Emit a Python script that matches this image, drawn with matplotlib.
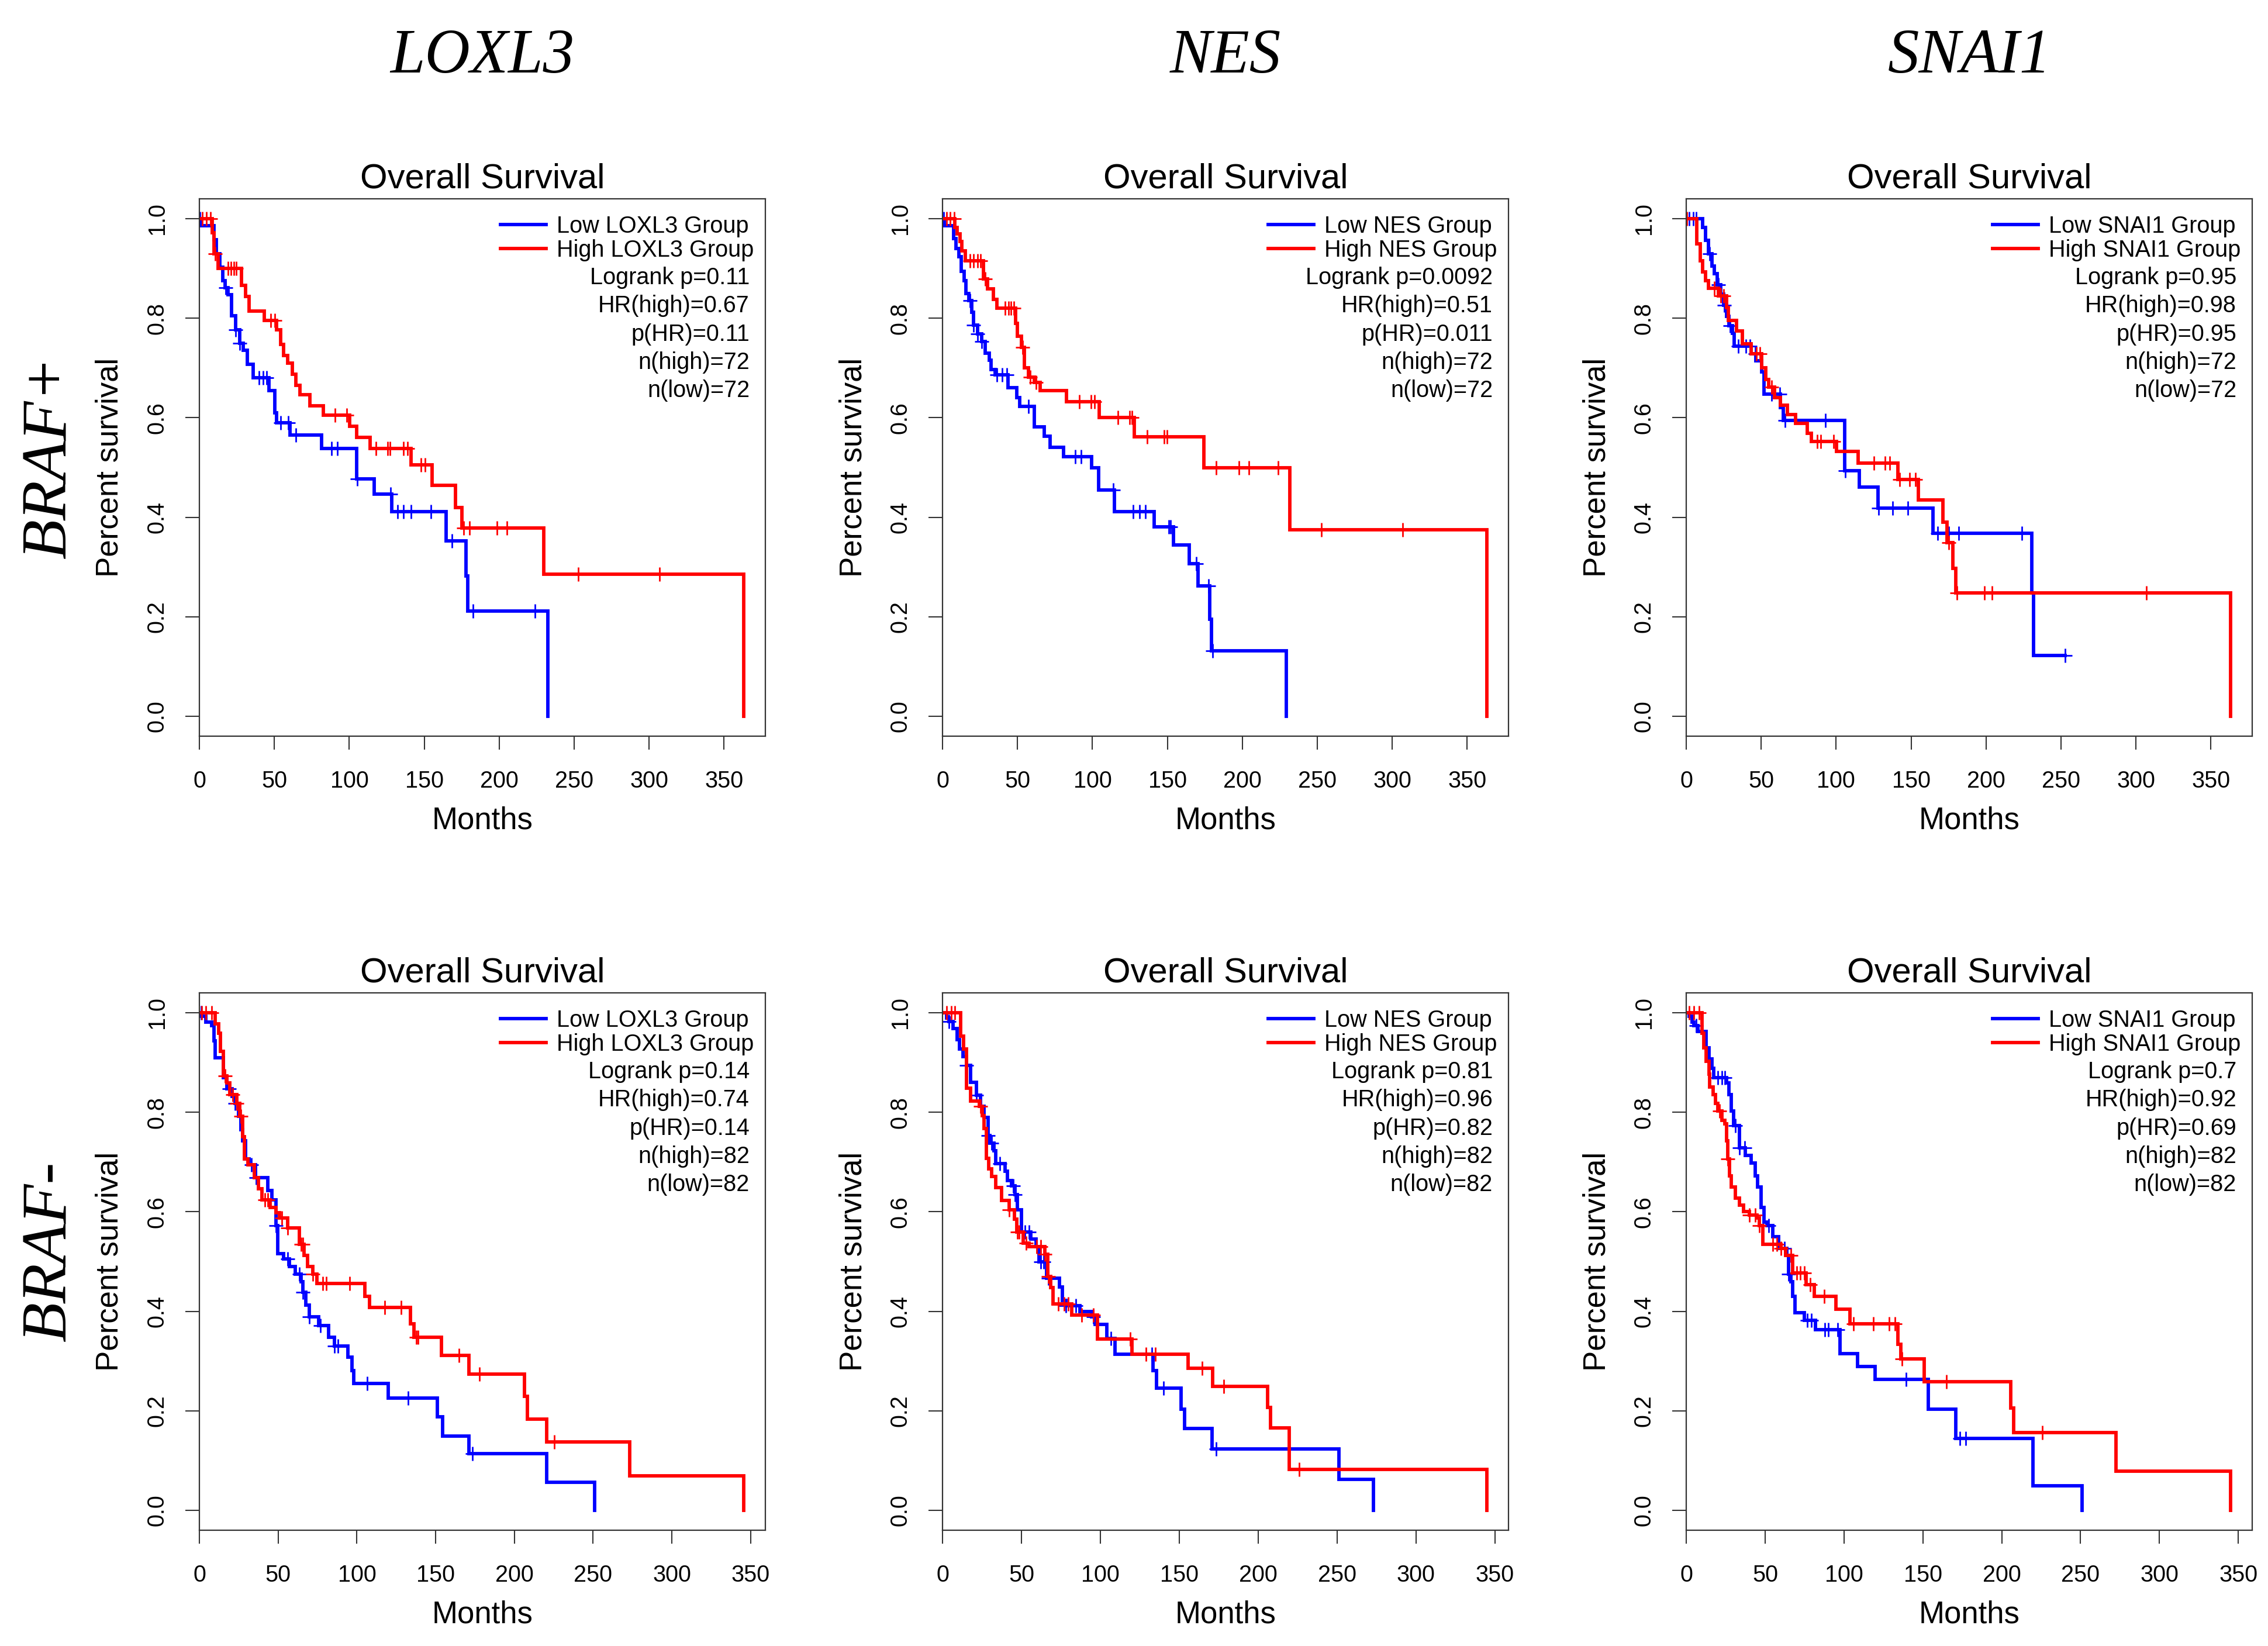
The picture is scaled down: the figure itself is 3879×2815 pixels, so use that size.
import numpy as np
import matplotlib
matplotlib.use("Agg")
import matplotlib.pyplot as plt
from matplotlib.lines import Line2D

plt.rcParams["font.family"] = ["Liberation Sans", "DejaVu Sans"]

# === Kaplan-Meier steps (months, fraction surviving) ===
genes = ["LOXL3", "NES", "SNAI1"]
groups = ["BRAF+", "BRAF-"]

# LOXL3 / BRAF+
A_low_t = [0, 1.3, 9.9, 11.5, 13.8, 15.6, 17.0, 19.0, 21.6, 24.2, 26.8, 29.4, 32.0, 35.9, 46.3, 50.2, 51.5, 60.6, 81.4, 104.9, 116.6, 128.3, 164.7, 177.7, 179.0, 232.4]
A_low_s = [1.0, 0.986, 0.958, 0.93, 0.902, 0.875, 0.861, 0.847, 0.805, 0.777, 0.75, 0.736, 0.708, 0.68, 0.654, 0.61, 0.59, 0.565, 0.538, 0.477, 0.447, 0.411, 0.352, 0.282, 0.211, 0.0]
A_low_c = [0.5, 17.7, 24.2, 26.8, 39.8, 42.4, 45.0, 54.1, 59.3, 64.5, 88.0, 91.9, 105.4, 127.5, 132.2, 136.1, 141.3, 154.3, 168.6, 182.4, 223.8]
A_high_t = [0, 8.6, 9.9, 12.5, 28.1, 30.7, 33.3, 43.2, 51.5, 54.1, 56.2, 58.8, 61.9, 64.5, 67.1, 73.6, 82.7, 100.4, 104.9, 114.0, 141.3, 155.1, 170.7, 175.1, 229.8, 363.0]
A_high_s = [1.0, 0.972, 0.93, 0.9, 0.866, 0.844, 0.814, 0.795, 0.777, 0.747, 0.725, 0.71, 0.687, 0.665, 0.646, 0.624, 0.605, 0.583, 0.561, 0.538, 0.505, 0.464, 0.419, 0.378, 0.285, 0.0]
A_high_c = [2.0, 4.7, 7.3, 10.5, 19.0, 21.0, 23.0, 24.5, 47.6, 50.2, 90.6, 98.4, 117.9, 125.7, 127.0, 136.1, 138.7, 147.8, 150.4, 176.4, 180.3, 198.5, 205.0, 252.7, 307.1]

# NES / BRAF+
B_low_t = [0, 1.3, 7.3, 9.1, 10.9, 12.5, 14.3, 15.6, 17.7, 19.5, 20.8, 23.4, 26.0, 28.6, 31.2, 32.5, 35.1, 43.7, 49.4, 51.5, 61.2, 67.7, 71.6, 80.7, 99.4, 104.1, 114.5, 141.0, 154.0, 164.5, 170.4, 178.2, 179.5, 229.5]
B_low_s = [1.0, 0.986, 0.96, 0.94, 0.924, 0.894, 0.876, 0.85, 0.835, 0.812, 0.786, 0.768, 0.753, 0.73, 0.716, 0.697, 0.686, 0.66, 0.641, 0.623, 0.582, 0.563, 0.541, 0.522, 0.5, 0.455, 0.411, 0.381, 0.344, 0.307, 0.262, 0.195, 0.132, 0.0]
B_low_c = [0.8, 18.2, 20.8, 23.4, 26.0, 36.4, 39.6, 42.9, 57.2, 88.5, 92.4, 114.0, 127.0, 131.4, 135.3, 150.9, 152.2, 169.1, 177.5, 180.0]
B_high_t = [0, 8.3, 9.9, 11.7, 13.0, 15.1, 27.3, 29.9, 33.8, 36.4, 48.9, 50.0, 52.6, 54.6, 57.2, 61.2, 65.1, 82.7, 104.6, 128.0, 174.3, 231.6, 363.0]
B_high_s = [1.0, 0.983, 0.969, 0.954, 0.935, 0.915, 0.879, 0.859, 0.838, 0.82, 0.79, 0.764, 0.742, 0.7, 0.682, 0.671, 0.655, 0.632, 0.6, 0.562, 0.5, 0.375, 0.0]
B_high_c = [2.6, 5.2, 7.8, 18.2, 20.8, 23.4, 25.5, 28.6, 41.6, 44.2, 45.5, 47.4, 53.3, 58.5, 62.5, 91.1, 98.9, 101.5, 117.1, 124.9, 126.2, 136.6, 147.8, 149.6, 182.7, 197.8, 204.3, 223.8, 252.9, 307.1]

# SNAI1 / BRAF+
C_low_t = [0, 11.0, 12.9, 15.0, 17.1, 18.9, 20.8, 22.9, 25.0, 26.8, 28.6, 30.7, 32.1, 43.4, 46.5, 50.4, 51.8, 62.8, 64.9, 105.6, 115.3, 128.0, 164.7, 230.4, 231.7, 252.8]
C_low_s = [1.0, 0.983, 0.957, 0.93, 0.905, 0.89, 0.867, 0.849, 0.826, 0.804, 0.785, 0.77, 0.744, 0.729, 0.714, 0.692, 0.647, 0.621, 0.595, 0.494, 0.461, 0.418, 0.368, 0.248, 0.122, 0.122]
C_low_c = [1.8, 4.5, 6.6, 15.5, 21.5, 25.5, 29.4, 34.7, 39.9, 42.6, 46.0, 57.0, 62.3, 66.0, 93.0, 106.0, 128.5, 137.9, 147.7, 167.9, 175.3, 181.8, 223.9, 252.8]
C_high_t = [0, 7.1, 9.2, 11.0, 12.9, 15.0, 21.5, 26.8, 28.1, 33.4, 37.3, 43.4, 50.4, 53.1, 54.9, 59.1, 62.8, 67.5, 72.8, 80.7, 83.3, 100.4, 114.8, 141.1, 154.8, 171.3, 173.9, 177.9, 180.0, 363.1]
C_high_s = [1.0, 0.949, 0.916, 0.893, 0.875, 0.86, 0.845, 0.822, 0.796, 0.774, 0.748, 0.729, 0.7, 0.677, 0.662, 0.64, 0.625, 0.606, 0.589, 0.569, 0.552, 0.532, 0.509, 0.476, 0.435, 0.39, 0.349, 0.297, 0.248, 0.0]
C_high_c = [0.5, 18.9, 22.9, 25.0, 47.0, 49.1, 57.0, 87.2, 89.9, 98.5, 125.3, 132.7, 135.8, 142.4, 149.0, 152.9, 175.3, 180.5, 198.9, 204.2, 307.1]

# LOXL3 / BRAF-
D_low_t = [0, 1.5, 4.0, 7.7, 9.4, 10.1, 15.1, 17.6, 20.8, 22.5, 25.0, 26.2, 27.5, 29.2, 31.7, 35.6, 43.6, 46.0, 48.5, 49.8, 53.5, 57.2, 60.9, 64.6, 65.8, 67.6, 69.6, 75.7, 81.9, 85.6, 94.3, 96.8, 98.0, 119.8, 151.2, 154.5, 171.0, 220.5, 251.0]
D_low_s = [1.0, 0.993, 0.981, 0.974, 0.944, 0.91, 0.87, 0.847, 0.832, 0.818, 0.792, 0.765, 0.743, 0.706, 0.695, 0.669, 0.643, 0.624, 0.572, 0.516, 0.505, 0.49, 0.475, 0.46, 0.438, 0.412, 0.389, 0.371, 0.348, 0.33, 0.308, 0.281, 0.255, 0.226, 0.188, 0.149, 0.114, 0.056, 0.0]
D_low_c = [1.0, 18.8, 22.5, 33.2, 36.1, 48.5, 55.9, 63.4, 65.8, 69.6, 77.0, 85.6, 88.1, 106.7, 132.7, 173.5]
D_high_t = [0, 10.1, 12.1, 13.4, 15.1, 17.6, 19.3, 23.8, 25.7, 27.5, 28.7, 30.7, 34.9, 37.4, 39.9, 44.8, 48.5, 51.0, 55.9, 63.4, 66.3, 68.8, 72.0, 74.5, 104.9, 107.9, 133.9, 136.4, 153.7, 171.0, 206.4, 208.2, 220.5, 273.3, 345.5]
D_high_s = [1.0, 0.978, 0.959, 0.922, 0.873, 0.859, 0.836, 0.818, 0.792, 0.751, 0.706, 0.695, 0.669, 0.646, 0.624, 0.609, 0.598, 0.587, 0.568, 0.535, 0.512, 0.49, 0.475, 0.456, 0.43, 0.408, 0.375, 0.348, 0.311, 0.274, 0.229, 0.183, 0.138, 0.069, 0.0]
D_high_c = [1.5, 4.0, 7.7, 16.3, 21.3, 23.8, 26.2, 41.6, 43.6, 52.2, 55.9, 64.6, 65.8, 72.0, 78.2, 80.7, 95.5, 117.8, 128.2, 137.6, 138.9, 164.9, 177.7, 225.5]

# NES / BRAF-
E_low_t = [0, 2.5, 4.2, 6.7, 9.1, 10.9, 12.8, 15.3, 17.8, 21.5, 23.9, 26.4, 28.9, 30.1, 32.6, 33.8, 39.5, 41.2, 43.7, 46.1, 47.4, 49.9, 56.0, 59.2, 61.0, 65.9, 74.0, 75.8, 78.2, 86.9, 94.3, 96.7, 104.1, 109.1, 133.3, 135.7, 151.0, 153.5, 170.8, 251.0, 273.2]
E_low_s = [1.0, 0.99, 0.983, 0.968, 0.946, 0.927, 0.912, 0.894, 0.86, 0.834, 0.812, 0.79, 0.753, 0.738, 0.723, 0.697, 0.682, 0.663, 0.652, 0.634, 0.604, 0.559, 0.545, 0.53, 0.5, 0.467, 0.449, 0.422, 0.411, 0.4, 0.389, 0.374, 0.345, 0.314, 0.281, 0.246, 0.203, 0.164, 0.123, 0.062, 0.0]
E_low_c = [4.2, 15.3, 21.5, 28.9, 31.3, 36.3, 44.9, 46.1, 52.3, 54.8, 62.2, 64.2, 67.1, 78.2, 84.4, 95.5, 106.6, 132.5, 139.9, 173.2]
E_high_t = [0, 11.6, 13.3, 15.3, 17.8, 23.2, 25.2, 26.4, 27.6, 29.4, 31.3, 33.8, 37.5, 42.4, 45.4, 46.9, 51.1, 54.8, 64.7, 66.6, 68.4, 70.1, 81.9, 98.0, 120.2, 155.5, 171.3, 205.8, 207.8, 219.6, 344.8]
E_high_s = [1.0, 0.953, 0.927, 0.849, 0.823, 0.812, 0.793, 0.767, 0.708, 0.686, 0.671, 0.649, 0.623, 0.604, 0.585, 0.559, 0.537, 0.53, 0.515, 0.47, 0.448, 0.415, 0.392, 0.344, 0.314, 0.285, 0.249, 0.207, 0.166, 0.082, 0.0]
E_high_c = [2.5, 5.4, 7.9, 23.9, 42.4, 47.4, 48.6, 52.8, 59.7, 62.2, 64.7, 67.1, 73.3, 77.0, 79.5, 88.1, 95.5, 119.0, 128.8, 135.0, 164.6, 178.2, 225.8]

# SNAI1 / BRAF-
F_low_t = [0, 2.0, 3.7, 5.0, 7.5, 12.5, 14.5, 16.2, 17.5, 25.5, 27.0, 28.7, 30.0, 33.7, 37.4, 41.2, 43.7, 45.4, 47.4, 49.4, 51.2, 54.9, 58.7, 63.7, 64.9, 66.2, 67.4, 69.1, 74.9, 81.9, 97.4, 108.6, 119.8, 153.5, 171.0, 219.7, 250.9]
F_low_s = [1.0, 0.993, 0.981, 0.974, 0.963, 0.929, 0.907, 0.888, 0.87, 0.859, 0.836, 0.803, 0.773, 0.728, 0.713, 0.698, 0.672, 0.65, 0.609, 0.579, 0.572, 0.55, 0.527, 0.512, 0.475, 0.46, 0.43, 0.397, 0.382, 0.363, 0.315, 0.289, 0.263, 0.203, 0.144, 0.049, 0.0]
F_low_c = [6.2, 20.0, 22.5, 24.5, 31.2, 33.7, 36.9, 52.4, 62.4, 64.9, 76.9, 79.4, 87.9, 89.9, 96.1, 139.3, 173.5, 177.2]
F_high_t = [0, 10.0, 11.2, 12.5, 14.5, 15.0, 17.0, 18.7, 20.0, 22.5, 24.5, 25.5, 26.2, 27.5, 28.7, 31.2, 33.7, 36.2, 39.9, 44.9, 46.2, 48.7, 59.9, 62.9, 67.4, 76.1, 81.1, 94.9, 103.6, 134.3, 136.0, 151.0, 205.9, 207.7, 272.6, 345.0]
F_high_s = [1.0, 0.959, 0.929, 0.903, 0.877, 0.851, 0.836, 0.818, 0.803, 0.784, 0.777, 0.743, 0.706, 0.672, 0.65, 0.628, 0.613, 0.601, 0.594, 0.587, 0.572, 0.535, 0.527, 0.512, 0.477, 0.453, 0.43, 0.404, 0.375, 0.334, 0.304, 0.258, 0.206, 0.156, 0.079, 0.0]
F_high_c = [2.0, 5.0, 8.0, 21.2, 26.2, 39.9, 43.7, 46.2, 54.9, 57.4, 59.9, 66.2, 69.9, 72.4, 74.9, 78.6, 87.4, 106.1, 118.6, 128.6, 132.3, 136.8, 164.8, 225.9]

# stats printed in each panel
A_stats = ["Logrank p=0.11", "HR(high)=0.67", "p(HR)=0.11", "n(high)=72", "n(low)=72"]
B_stats = ["Logrank p=0.0092", "HR(high)=0.51", "p(HR)=0.011", "n(high)=72", "n(low)=72"]
C_stats = ["Logrank p=0.95", "HR(high)=0.98", "p(HR)=0.95", "n(high)=72", "n(low)=72"]
D_stats = ["Logrank p=0.14", "HR(high)=0.74", "p(HR)=0.14", "n(high)=82", "n(low)=82"]
E_stats = ["Logrank p=0.81", "HR(high)=0.96", "p(HR)=0.82", "n(high)=82", "n(low)=82"]
F_stats = ["Logrank p=0.7", "HR(high)=0.92", "p(HR)=0.69", "n(high)=82", "n(low)=82"]

panels = [
    [(A_low_t, A_low_s, A_low_c, A_high_t, A_high_s, A_high_c, A_stats),
     (B_low_t, B_low_s, B_low_c, B_high_t, B_high_s, B_high_c, B_stats),
     (C_low_t, C_low_s, C_low_c, C_high_t, C_high_s, C_high_c, C_stats)],
    [(D_low_t, D_low_s, D_low_c, D_high_t, D_high_s, D_high_c, D_stats),
     (E_low_t, E_low_s, E_low_c, E_high_t, E_high_s, E_high_c, E_stats),
     (F_low_t, F_low_s, F_low_c, F_high_t, F_high_s, F_high_c, F_stats)],
]

BLUE = "#0000FF"
RED = "#FF0000"
FRAME = "#333333"
LW = 4.2
W, H = 3879, 2815
col_left = [341, 1612, 2884]   # pixels
row_top = [340, 1698]
ax_w, ax_h = 968, 919


def surv_at(t, s, c):
    idx = np.searchsorted(np.asarray(t), np.asarray(c), side="right") - 1
    return np.asarray(s)[idx]


def km(ax, t, s, c, color):
    ax.step(t, s, where="post", color=color, lw=LW, solid_joinstyle="miter")
    ax.plot(c, surv_at(t, s, c), "+", color=color, ms=17, mew=2.0, ls="none")


def draw_panel(ax, gene, data):
    low_t, low_s, low_c, high_t, high_s, high_c, stats = data
    km(ax, low_t, low_s, low_c, BLUE)
    km(ax, high_t, high_s, high_c, RED)

    tmax = max(low_t[-1], high_t[-1])
    ax.set_xlim(0, tmax * 1.04)
    ax.set_ylim(-0.04, 1.04)
    ax.set_xticks(np.arange(0, 351, 50))
    ax.set_yticks(np.arange(0, 1.01, 0.2))
    ax.set_yticklabels([f"{v:.1f}" for v in np.arange(0, 1.01, 0.2)], rotation=90, va="center")
    ax.tick_params(axis="x", length=16.5, width=1.5, pad=25, labelsize=28.5, color=FRAME)
    ax.tick_params(axis="y", length=17.5, width=1.5, pad=21, labelsize=28.5, color=FRAME)
    for sp in ax.spines.values():
        sp.set_color(FRAME)
        sp.set_linewidth(1.6)

    ax.text(0.5, 1 + 19 / ax_h, "Overall Survival", transform=ax.transAxes,
            ha="center", va="baseline", fontsize=43)
    ax.text(0.5, -159 / ax_h, "Months", transform=ax.transAxes,
            ha="center", va="baseline", fontsize=38)
    ax.text(-153 / ax_w, 0.5, "Percent survival", transform=ax.transAxes,
            ha="center", va="center", rotation=90, fontsize=38)

    handles = [Line2D([], [], color=BLUE, lw=LW), Line2D([], [], color=RED, lw=LW)]
    ax.legend(handles, [f"Low {gene} Group", f"High {gene} Group"],
              loc="upper right", bbox_to_anchor=(1 - 20 / ax_w, 1 - 28 / ax_h),
              frameon=False, borderpad=0, borderaxespad=0, handlelength=1.97,
              handletextpad=0.45, labelspacing=0.08, fontsize=28.5)
    for i, line in enumerate(stats):
        ax.text(1 - 27 / ax_w, 1 - (146 + 48.3 * i) / ax_h, line, transform=ax.transAxes,
                ha="right", va="baseline", fontsize=28.5)


fig = plt.figure(figsize=(W / 100, H / 100), dpi=100)

for r in range(2):
    for c in range(3):
        ax = fig.add_axes([col_left[c] / W, 1 - (row_top[r] + ax_h) / H, ax_w / W, ax_h / H])
        draw_panel(ax, genes[c], panels[r][c])

for c, gene in enumerate(genes):
    fig.text((col_left[c] + ax_w / 2) / W, 1 - 124 / H, gene, ha="center", va="baseline",
             fontsize=77, family="Liberation Serif", style="italic")

for r, g in enumerate(groups):
    fig.text(112 / W, 1 - (row_top[r] + ax_h / 2 - 18) / H, g, rotation=90,
             rotation_mode="anchor", ha="center", va="baseline",
             fontsize=80, family="Liberation Serif", style="italic")

fig.savefig("out.png", dpi=100)
